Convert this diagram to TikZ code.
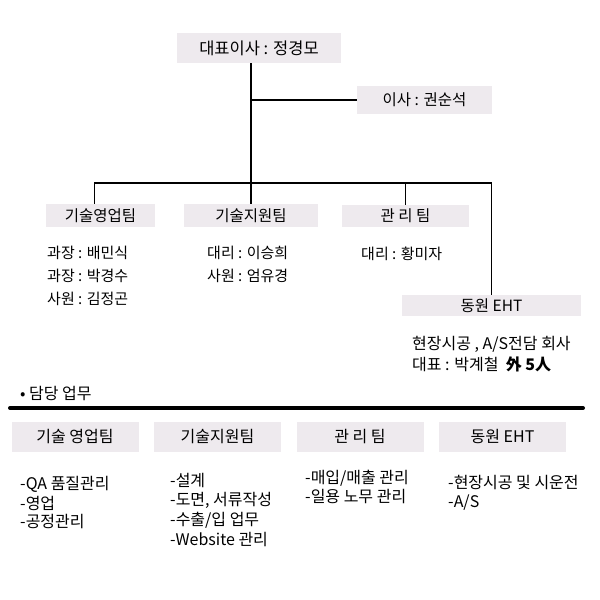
\documentclass[tikz,border=0pt]{standalone}
\usepackage{fontspec}
\setmainfont{Noto Sans CJK KR}
\definecolor{boxgray}{RGB}{238,234,238}
\tikzset{
  box/.style={fill=boxgray, inner sep=0pt, font=\fontsize{15.5}{17}\selectfont},
  link/.style={line width=1.5pt},
  item/.style={anchor=west, inner sep=0pt, font=\fontsize{16}{18}\selectfont},
  staff/.style={item, font=\fontsize{15}{17}\selectfont},
}
\begin{document}
\begin{tikzpicture}[x=1pt, y=-1pt]
    \useasboundingbox (0,0) rectangle (600,600);

    % org chart
    \node[box, minimum width=164pt, minimum height=30pt, font=\fontsize{16.5}{18}\selectfont] (ceo) at (259,48) {대표이사 : 정경모};
    \node[box, minimum width=135pt, minimum height=28pt] (dir) at (424.5,100) {이사 : 권순석};
    \node[box, minimum width=109pt, minimum height=23pt] (sales) at (100.5,215.5) {기술영업팀};
    \node[box, minimum width=134pt, minimum height=23pt] (support) at (251,215.5) {기술지원팀};
    \node[box, minimum width=127pt, minimum height=22pt] (admin) at (405.5,216) {관 리 팀};
    \node[box, minimum width=179pt, minimum height=21pt] (eht) at (491.5,305.5) {동원 EHT};

    \coordinate (bus) at (251,183);
    \draw[link] (ceo.south -| support) -- (support.north);
    \draw[link] (dir.west) -- (dir.west -| support);
    \draw[link] ([xshift=-6pt]sales.north) |- (bus) -| (eht.north);
    \draw[link] (admin.north) -- (admin.north |- bus);

    % staff
    \foreach \t [count=\i] in {과장 : 배민식, 과장 : 박경수, 사원 : 김정곤}
      \node[staff] (salesstaff\i) at (47, 230+23*\i) {\t};
    \foreach \t [count=\i] in {대리 : 이승희, 사원 : 엄유경}
      \node[staff] (supportstaff\i) at (207, 230+23*\i) {\t};
    \node[staff] (adminstaff) at (361,254) {대리 : 황미자};
    \node[item] (ehtnote) at (412,344) {현장시공 , A/S전담 회사};
    \node[item] (ehtceo) at (412,364) {대표 : 박계철 \ \textbf{外 5人}};

    % duties
    \node[item] (duty) at (20,393) {• 담당 업무};
    \draw[line width=4pt, line cap=round] (10,408) -- (583,408);

    \foreach \t [count=\i] in {기술 영업팀, 기술지원팀, 관 리 팀, 동원 EHT}
      \node[box, font=\fontsize{16}{18}\selectfont, minimum width=127pt, minimum height=30pt] (d\i) at (75+142.5*\i-142.5, 437) {\t};

    \foreach \t [count=\i] in {-QA 품질관리, -영업, -공정관리}
      \node[item] (dsales\i) at (20, 466+18.5*\i) {\t};
    \foreach \t [count=\i] in {-설계, {-도면, 서류작성}, -수출/입 업무, -Website 관리}
      \node[item] (dsupport\i) at (170, 461+19.7*\i) {\t};
    \foreach \t [count=\i] in {-매입/매출 관리, -일용 노무 관리}
      \node[item] (dadmin\i) at (305, 459+19*\i) {\t};
    \foreach \t [count=\i] in {-현장시공 및 시운전, -A/S}
      \node[item] (deht\i) at (448, 463+20*\i) {\t};
\end{tikzpicture}
\end{document}
